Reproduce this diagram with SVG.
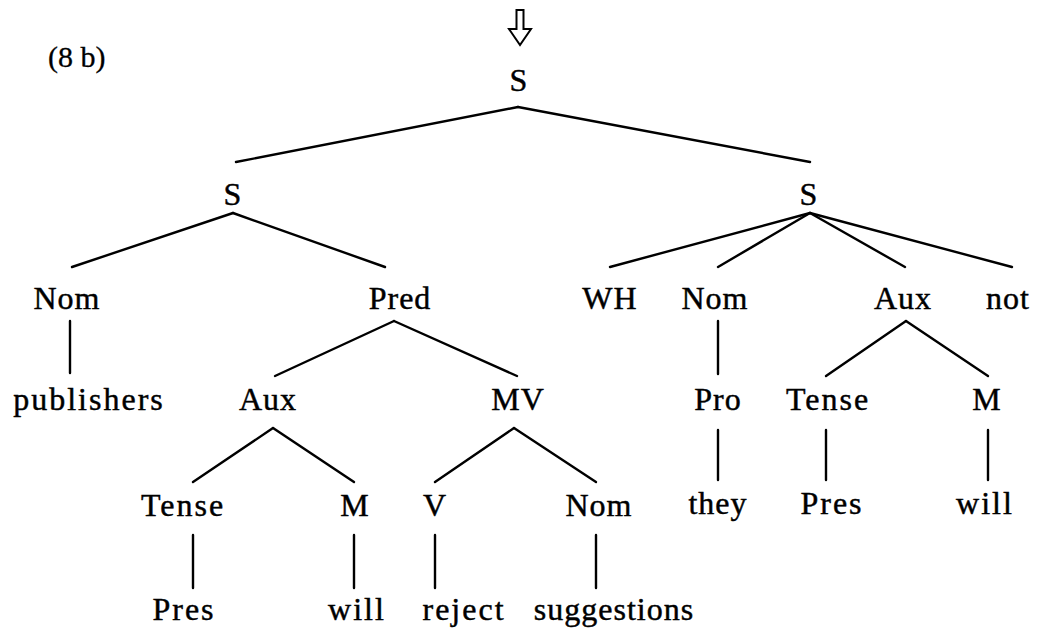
<svg xmlns="http://www.w3.org/2000/svg" width="1046" height="632" viewBox="0 0 1046 632">
  <style>
    text { font-family: "Liberation Serif", "Times New Roman", serif; font-size: 32px; fill: #000; stroke: #000; stroke-width: 0.45; text-anchor: middle; letter-spacing: 1px; }
    .edges line { stroke: #000; stroke-width: 2.4; stroke-linecap: round; }
    .label { font-size: 30px; text-anchor: start; letter-spacing: 0; stroke-width: 0.3; }
    .wide { letter-spacing: 2px; }
  </style>
  <rect width="1046" height="632" fill="#fff"/>

  <!-- example number and derivation arrow -->
  <text class="label" x="48" y="67">(8 b)</text>
  <path id="derive-arrow" d="M516.5 10 H523.5 V29 H531 L520 45 L509 29 H516.5 Z" fill="#fff" stroke="#000" stroke-width="2" stroke-linejoin="miter"/>

  <!-- tree edges -->
  <g class="edges">
    <line x1="518" y1="107" x2="236" y2="162"/>
    <line x1="518" y1="107" x2="810" y2="162"/>

    <line x1="233" y1="213" x2="72" y2="267"/>
    <line x1="233" y1="213" x2="385" y2="267"/>

    <line x1="810" y1="213" x2="610" y2="267"/>
    <line x1="810" y1="213" x2="718" y2="267"/>
    <line x1="810" y1="213" x2="905" y2="267"/>
    <line x1="810" y1="213" x2="1012" y2="267"/>

    <line x1="70" y1="321" x2="70" y2="373"/>
    <line x1="394" y1="321" x2="275" y2="376"/>
    <line x1="394" y1="321" x2="517" y2="376"/>

    <line x1="718" y1="321" x2="718" y2="374"/>
    <line x1="906" y1="321" x2="826" y2="376"/>
    <line x1="906" y1="321" x2="988" y2="376"/>

    <line x1="273" y1="428" x2="193" y2="482"/>
    <line x1="273" y1="428" x2="354" y2="482"/>
    <line x1="514" y1="428" x2="435" y2="482"/>
    <line x1="514" y1="428" x2="596" y2="482"/>

    <line x1="718" y1="430" x2="718" y2="480"/>
    <line x1="826" y1="430" x2="826" y2="480"/>
    <line x1="988" y1="430" x2="988" y2="480"/>

    <line x1="193" y1="535" x2="193" y2="588"/>
    <line x1="354" y1="535" x2="354" y2="588"/>
    <line x1="435" y1="535" x2="435" y2="588"/>
    <line x1="596" y1="535" x2="596" y2="588"/>
  </g>

  <!-- nodes -->
  <g id="n-root"><text x="519" y="91">S</text></g>
  <g id="n-s1"><text x="233" y="205">S</text></g>
  <g id="n-s2"><text x="809" y="205">S</text></g>

  <g id="n-nom1"><text x="67" y="309">Nom</text></g>
  <g id="n-pred"><text x="400" y="309">Pred</text></g>
  <g id="n-wh"><text x="610" y="309">WH</text></g>
  <g id="n-nom2"><text x="715" y="309">Nom</text></g>
  <g id="n-aux2"><text x="903" y="309">Aux</text></g>
  <g id="n-not"><text x="1008" y="309">not</text></g>

  <g id="n-publishers"><text class="wide" x="89" y="410">publishers</text></g>
  <g id="n-aux1"><text x="268" y="410">Aux</text></g>
  <g id="n-mv"><text x="518" y="410">MV</text></g>
  <g id="n-pro"><text x="718" y="410">Pro</text></g>
  <g id="n-tense2"><text class="wide" x="828" y="410">Tense</text></g>
  <g id="n-m2"><text x="987" y="410">M</text></g>

  <g id="n-tense1"><text class="wide" x="183" y="516">Tense</text></g>
  <g id="n-m1"><text x="355" y="516">M</text></g>
  <g id="n-v"><text x="435" y="516">V</text></g>
  <g id="n-nom3"><text x="599" y="516">Nom</text></g>
  <g id="n-they"><text x="718" y="514">they</text></g>
  <g id="n-pres2"><text class="wide" x="832" y="514">Pres</text></g>
  <g id="n-will2"><text class="wide" x="985" y="514">will</text></g>

  <g id="n-pres1"><text class="wide" x="184" y="620">Pres</text></g>
  <g id="n-will1"><text class="wide" x="357" y="620">will</text></g>
  <g id="n-reject"><text class="wide" x="464" y="620">reject</text></g>
  <g id="n-suggestions"><text x="614" y="620">suggestions</text></g>
</svg>
